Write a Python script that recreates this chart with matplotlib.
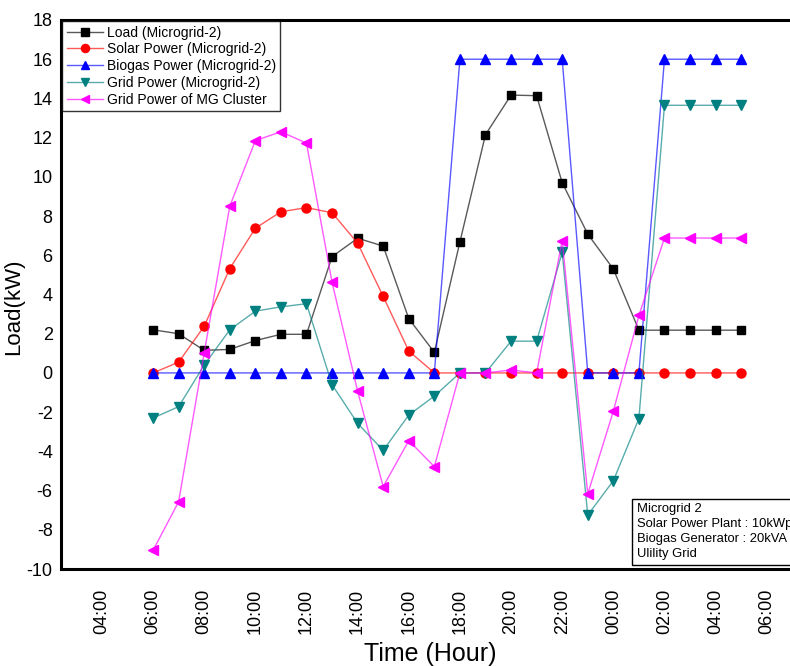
import matplotlib
matplotlib.use("Agg")
import matplotlib.pyplot as plt

plt.rcParams['font.family'] = ['Liberation Sans', 'DejaVu Sans']
plt.rcParams['axes.unicode_minus'] = False

# hours (6 = 06:00, 24 = 00:00 next day, ...)
hours = list(range(6, 30))

load = [2.2, 2.0, 1.15, 1.2, 1.65, 1.97, 1.97, 5.93, 6.87, 6.47, 2.77, 1.05,
        6.68, 12.15, 14.17, 14.14, 9.7, 7.08, 5.3, 2.18, 2.18, 2.18, 2.18, 2.18]
solar = [0.0, 0.55, 2.38, 5.32, 7.38, 8.22, 8.43, 8.17, 6.62, 3.9, 1.12, 0.0,
         0, 0, 0, 0, 0, 0, 0, 0, 0, 0, 0, 0]
biogas = [0, 0, 0, 0, 0, 0, 0, 0, 0, 0, 0, 0,
          16, 16, 16, 16, 16, 0, 0, 0, 16, 16, 16, 16]
grid_mg2 = [-2.3, -1.72, 0.4, 2.2, 3.15, 3.37, 3.53, -0.6, -2.57, -3.95, -2.15, -1.18,
            0.0, 0.0, 1.62, 1.62, 6.15, -7.25, -5.5, -2.33, 13.65, 13.65, 13.65, 13.65]
grid_cluster = [-9.05, -6.57, 1.02, 8.5, 11.85, 12.3, 11.72, 4.62, -0.93, -5.8, -3.45, -4.78,
                0.0, 0.0, 0.15, 0.0, 6.75, -6.17, -1.95, 2.93, 6.88, 6.88, 6.88, 6.88]

tick_pos = list(range(4, 31, 2))
tick_labels = ['%02d:00' % (h % 24) for h in tick_pos]

fig = plt.figure(figsize=(7.9, 6.66), dpi=100)
W, H = 790, 666
# the right part of the frame runs past the picture, as in the source figure
ax = fig.add_axes([61 / W, (H - 569) / H, 739 / W, 549 / H])

series = [
    (load, 'Load (Microgrid-2)', 'black', 's', 6),
    (solar, 'Solar Power (Microgrid-2)', 'red', 'o', 6.5),
    (biogas, 'Biogas Power (Microgrid-2)', 'blue', '^', 7),
    (grid_mg2, 'Grid Power (Microgrid-2)', '#008080', 'v', 7),
    (grid_cluster, 'Grid Power of MG Cluster', 'magenta', '<', 7),
]
for vals, lab, col, mk, ms in series:
    line_col = matplotlib.colors.to_rgba(col, 0.65)
    ax.plot(hours, vals, color=line_col, lw=1.0, marker=mk, markersize=ms,
            markerfacecolor=col, markeredgecolor=col, label=lab)

ax.set_xlim(2.40, 31.30)
ax.set_ylim(-10, 18)
ax.set_yticks(range(-10, 19, 2))
ax.set_xticks(tick_pos)
ax.set_xticklabels(tick_labels, rotation=90)
ax.tick_params(axis='both', length=0, labelsize=13)
ax.tick_params(axis='x', pad=14)
ax.tick_params(axis='y', pad=6)
for sp in ax.spines.values():
    sp.set_linewidth(2.2)

ax.set_xlabel('Time (Hour)', fontsize=18, labelpad=6)
ax.set_ylabel('Load(kW)', fontsize=16)
ax.yaxis.set_label_coords(-0.05, 0.477)

leg = ax.legend(loc='upper left', bbox_to_anchor=(0.0, 1.0), borderaxespad=0.1,
                fontsize=10, frameon=True, fancybox=False, handlelength=2.6,
                handletextpad=0.3, labelspacing=0.2, borderpad=0.3, markerscale=0.9)
leg.get_frame().set_edgecolor('black')
leg.get_frame().set_linewidth(1.0)

ax.text(0.779, 0.12, 'Microgrid 2\nSolar Power Plant : 10kWp\nBiogas Generator : 20kVA\nUlility Grid',
        transform=ax.transAxes, ha='left', va='top', fontsize=9.4, linespacing=1.33,
        bbox=dict(boxstyle='square,pad=0.35', fc='white', ec='black', lw=1.0))

fig.savefig('out.png', dpi=100)
